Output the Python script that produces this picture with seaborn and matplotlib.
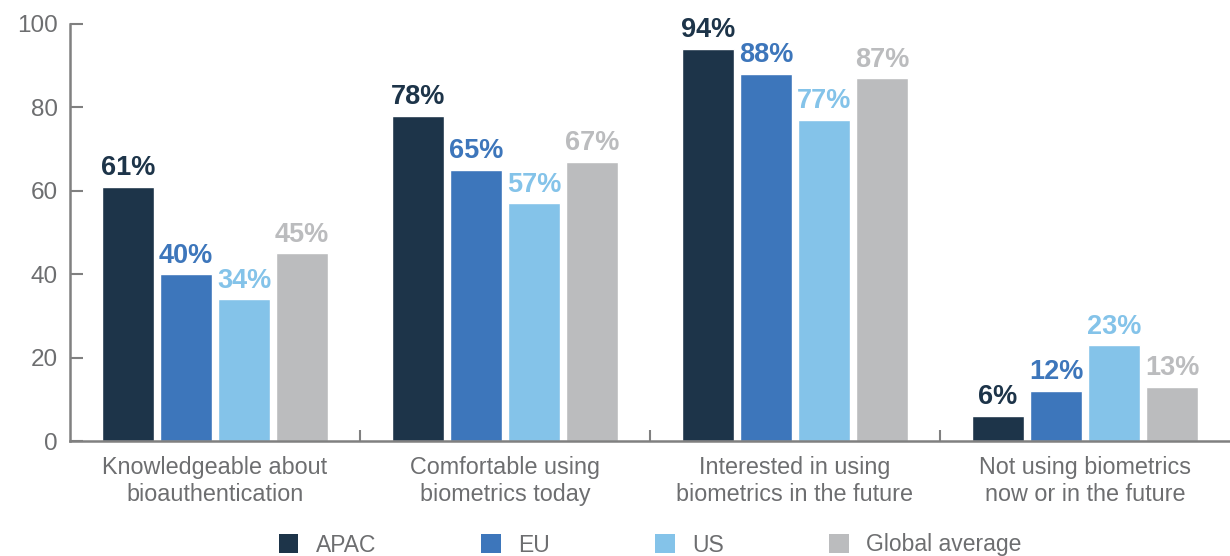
import matplotlib
matplotlib.use("Agg")
import matplotlib.pyplot as plt
import seaborn as sns
import pandas as pd
from matplotlib.patches import Patch

categories = ["Knowledgeable about\nbioauthentication",
              "Comfortable using\nbiometrics today",
              "Interested in using\nbiometrics in the future",
              "Not using biometrics\nnow or in the future"]
series = ["APAC", "EU", "US", "Global average"]
apac = [61, 78, 94, 6]
eu = [40, 65, 88, 12]
us = [34, 57, 77, 23]
global_avg = [45, 67, 87, 13]
colors = ["#1d3449", "#3d76bb", "#84c3e9", "#bbbcbe"]
yticks = [0, 20, 40, 60, 80, 100]

sns.set_theme(style="white")
plt.rcParams["font.family"] = ["Liberation Sans", "DejaVu Sans"]
gray = "#6d6e70"
axis_gray = "#808080"

rows = []
for s, vals in zip(series, [apac, eu, us, global_avg]):
    for c, v in zip(categories, vals):
        rows.append({"category": c, "series": s, "value": v})
df = pd.DataFrame(rows)

fig = plt.figure(figsize=(12.3, 5.56), dpi=100)
ax = fig.add_axes([70 / 1230, 115 / 556, 1160 / 1230, 417 / 556])
sns.barplot(data=df, x="category", y="value", hue="series", hue_order=series,
            order=categories, palette=colors, width=0.8, gap=0.09,
            saturation=1, legend=False, ax=ax, errorbar=None)

for cont, col in zip(ax.containers, colors):
    ax.bar_label(cont, labels=[f"{int(round(b.get_height()))}%" for b in cont],
                 padding=4, color=col, fontsize=19.5, fontweight="bold")

ax.set_ylim(0, 100)
ax.set_xlim(-0.5, 3.5)
ax.set_yticks(yticks)
ax.set_xlabel("")
ax.set_ylabel("")
ax.tick_params(axis="y", direction="in", length=9, width=1.5, color=axis_gray,
               labelsize=17.5, labelcolor=gray, pad=9, left=True)
ax.tick_params(axis="x", which="major", length=0, labelsize=16.8, labelcolor=gray, pad=11)
ax.set_xticks([0.5, 1.5, 2.5], minor=True)
ax.tick_params(axis="x", which="minor", direction="in", length=8, width=1.5,
               color=axis_gray, bottom=True)
for lab in ax.get_xticklabels():
    lab.set_linespacing(1.2)
for side in ["top", "right"]:
    ax.spines[side].set_visible(False)
for side in ["left", "bottom"]:
    ax.spines[side].set_color(axis_gray)
    ax.spines[side].set_linewidth(1.8)

handles = [Patch(facecolor=c, edgecolor="none", label=s) for s, c in zip(series, colors)]
fig.legend(handles=handles, loc="center", bbox_to_anchor=(650 / 1230, 11 / 556),
           ncol=4, frameon=False, fontsize=16.5, handlelength=0.85, handleheight=0.85,
           handletextpad=0.75, columnspacing=4.6, labelcolor=gray)

fig.savefig("out.png", dpi=100)
